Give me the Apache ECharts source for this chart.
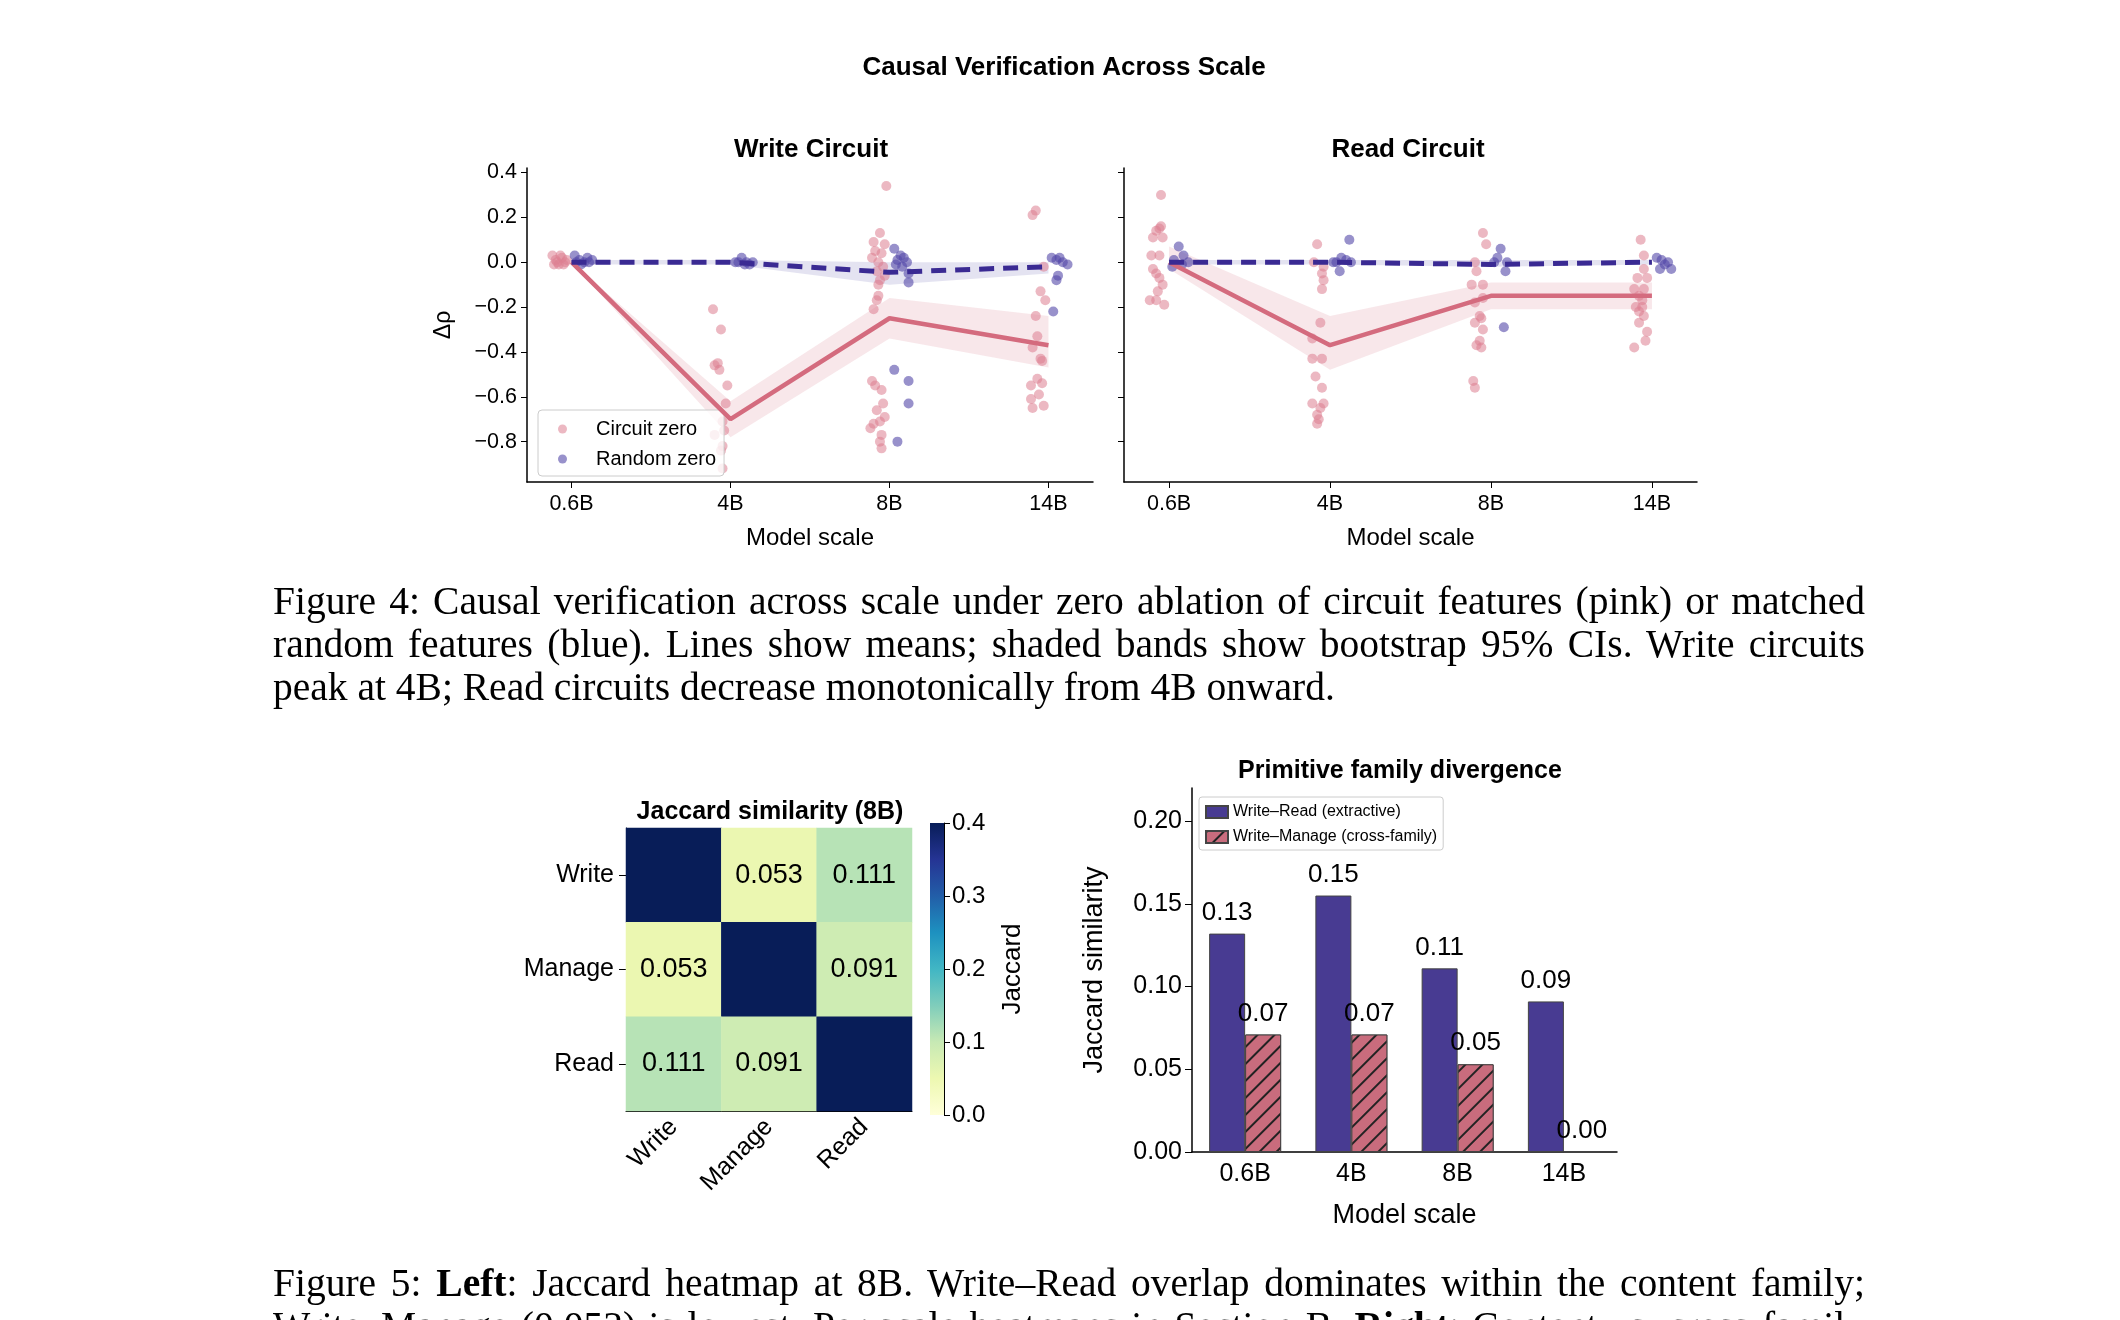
<!DOCTYPE html>
<html>
<head>
<meta charset="utf-8">
<script src="https://cdn.jsdelivr.net/npm/echarts@6/dist/echarts.min.js"></script>
<style>
  body { margin: 0; background: #fff; }
  #chart { width: 2120px; height: 1320px; position: absolute; left: 0; top: 0; }
  .cap { position: absolute; left: 273px; width: 1592px; font-family: 'Liberation Serif', serif; font-size: 39.5px; line-height: 43px; color: #000; white-space: nowrap; }
  .just { text-align: justify; text-align-last: justify; white-space: normal; }
</style>
</head>
<body>
<div id="chart"></div>
<div class="cap just" style="top:580px">Figure 4: Causal verification across scale under zero ablation of circuit features (pink) or matched</div>
<div class="cap just" style="top:623px">random features (blue). Lines show means; shaded bands show bootstrap 95% CIs. Write circuits</div>
<div class="cap" style="top:666px">peak at 4B; Read circuits decrease monotonically from 4B onward.</div>
<div class="cap just" style="top:1262px">Figure 5: <b>Left</b>: Jaccard heatmap at 8B. Write–Read overlap dominates within the content family;</div>
<div class="cap just" style="top:1305px">Write–Manage (0.053) is lowest. Per-scale heatmaps in Section B. <b>Right</b>: Content vs. cross-family</div>
<script>
const scales = ['0.6B', '4B', '8B', '14B'];

// Write circuit: means and bootstrap CIs
const writeCircuitMean = [0.0, -0.70, -0.25, -0.37];
const writeCircuitLo = [0.0, -0.78, -0.34, -0.47];
const writeCircuitHi = [0.0, -0.62, -0.16, -0.24];
const writeRandomMean = [0.0, 0.0, -0.045, -0.02];
const writeRandomLo = [-0.01, -0.01, -0.10, -0.05];
const writeRandomHi = [0.01, 0.01, 0.0, 0.0];

// Read circuit
const readCircuitMean = [0.0, -0.37, -0.15, -0.15];
const readCircuitLo = [-0.03, -0.48, -0.21, -0.21];
const readCircuitHi = [0.07, -0.24, -0.09, -0.09];
const readRandomMean = [0.0, 0.0, -0.01, 0.0];
const readRandomLo = [-0.01, -0.01, -0.02, -0.01];
const readRandomHi = [0.01, 0.01, 0.01, 0.01];

// individual points per scale: [jitter offset, delta rho]
const writeCircuitPts = [
  [[-0.12, 0.03], [-0.1, 0.01], [-0.08, -0.01], [-0.06, 0.02], [-0.04, 0.0], [-0.11, -0.01], [-0.07, 0.03], [-0.03, 0.01], [-0.09, 0.0], [-0.05, -0.01]],
  [[-0.11, -0.21], [-0.06, -0.30], [-0.1, -0.46], [-0.08, -0.45], [-0.07, -0.48], [-0.02, -0.55], [-0.03, -0.63], [-0.05, -0.71], [-0.1, -0.77], [-0.04, -0.75], [-0.05, -0.82], [-0.06, -0.84], [-0.05, -0.92]],
  [[-0.02, 0.34], [-0.06, 0.13], [-0.1, 0.09], [-0.03, 0.08], [-0.09, 0.05], [-0.05, 0.04], [-0.11, 0.02], [-0.07, 0.0], [-0.04, -0.02], [-0.08, -0.04], [-0.03, -0.06], [-0.06, -0.08], [-0.07, -0.10], [-0.07, -0.15], [-0.08, -0.17], [-0.1, -0.21], [-0.11, -0.53], [-0.09, -0.55], [-0.05, -0.57], [-0.04, -0.63], [-0.08, -0.66], [-0.03, -0.69], [-0.06, -0.71], [-0.1, -0.72], [-0.12, -0.74], [-0.05, -0.77], [-0.06, -0.80], [-0.05, -0.83]],
  [[-0.08, 0.23], [-0.1, 0.21], [-0.03, -0.02], [-0.05, -0.13], [-0.02, -0.17], [-0.08, -0.24], [-0.07, -0.33], [-0.1, -0.38], [-0.05, -0.43], [-0.04, -0.44], [-0.07, -0.52], [-0.04, -0.54], [-0.11, -0.55], [-0.06, -0.59], [-0.11, -0.61], [-0.03, -0.64], [-0.1, -0.65]]
];
const writeRandomPts = [
  [[0.02, 0.03], [0.05, 0.01], [0.08, 0.0], [0.1, 0.02], [0.13, 0.01], [0.06, -0.01], [0.11, 0.0], [0.03, 0.0]],
  [[0.03, 0.0], [0.07, 0.02], [0.1, 0.0], [0.12, -0.01], [0.05, 0.0], [0.14, 0.0], [0.09, -0.01]],
  [[0.03, 0.06], [0.07, 0.03], [0.09, 0.02], [0.05, 0.01], [0.11, 0.0], [0.04, -0.01], [0.08, -0.02], [0.12, -0.05], [0.12, -0.09], [0.03, -0.48], [0.12, -0.53], [0.12, -0.63], [0.05, -0.80]],
  [[0.02, 0.02], [0.05, 0.01], [0.09, 0.0], [0.12, -0.01], [0.07, 0.02], [0.06, -0.06], [0.05, -0.08], [0.03, -0.22]]
];
const readCircuitPts = [
  [[-0.05, 0.30], [-0.05, 0.16], [-0.08, 0.14], [-0.06, 0.15], [-0.1, 0.11], [-0.04, 0.11], [-0.11, 0.03], [-0.06, 0.03], [-0.1, -0.03], [-0.08, -0.05], [-0.06, -0.07], [-0.04, -0.10], [-0.07, -0.13], [-0.12, -0.17], [-0.08, -0.17], [-0.03, -0.19]],
  [[-0.08, 0.08], [-0.1, 0.0], [-0.04, -0.02], [-0.05, -0.05], [-0.04, -0.08], [-0.05, -0.12], [-0.06, -0.27], [-0.11, -0.34], [-0.11, -0.43], [-0.05, -0.43], [-0.09, -0.51], [-0.05, -0.56], [-0.11, -0.63], [-0.04, -0.63], [-0.06, -0.65], [-0.08, -0.68], [-0.07, -0.70], [-0.08, -0.72]],
  [[-0.05, 0.13], [-0.03, 0.08], [-0.1, 0.0], [-0.09, -0.04], [-0.12, -0.10], [-0.05, -0.10], [-0.05, -0.16], [-0.1, -0.18], [-0.07, -0.24], [-0.1, -0.27], [-0.06, -0.25], [-0.05, -0.30], [-0.07, -0.35], [-0.09, -0.37], [-0.06, -0.38], [-0.11, -0.53], [-0.1, -0.56]],
  [[-0.07, 0.10], [-0.05, 0.03], [-0.05, -0.03], [-0.09, -0.07], [-0.03, -0.07], [-0.05, -0.12], [-0.11, -0.12], [-0.08, -0.15], [-0.06, -0.17], [-0.1, -0.20], [-0.06, -0.20], [-0.08, -0.22], [-0.05, -0.24], [-0.08, -0.27], [-0.03, -0.31], [-0.04, -0.35], [-0.11, -0.38]]
];
const readRandomPts = [
  [[0.06, 0.07], [0.09, 0.03], [0.03, 0.01], [0.12, 0.0], [0.08, -0.01], [0.02, -0.02]],
  [[0.12, 0.10], [0.07, 0.02], [0.1, 0.01], [0.04, 0.0], [0.13, 0.0], [0.06, -0.04], [0.02, 0.0]],
  [[0.06, 0.06], [0.04, 0.02], [0.02, 0.0], [0.1, 0.0], [0.09, -0.04], [0.08, -0.29]],
  [[0.03, 0.02], [0.06, 0.01], [0.1, 0.0], [0.08, -0.01], [0.12, -0.03], [0.05, -0.03]]
];

// Jaccard similarity at 8B
const primitives = ['Write', 'Manage', 'Read'];
const jaccard8B = [
  [1.0, 0.053, 0.111],
  [0.053, 1.0, 0.091],
  [0.111, 0.091, 1.0]
];

// Family divergence bars
const writeRead = [0.132, 0.155, 0.111, 0.091];
const writeManage = [0.071, 0.071, 0.053, 0.0];

const ylgnbu = ['#ffffd9', '#edf8b1', '#c7e9b4', '#7fcdbb', '#41b6c4', '#1d91c0', '#225ea8', '#253494', '#081d58'];
const PINK = '#d46b7e', PINK_PT = '#dc7d8f', BLUE = '#3a2a93', BLUE_PT = '#5447a8';
const FONT = 'Liberation Sans';

function flatten(pts) {
  const out = [];
  pts.forEach((grp, i) => grp.forEach(p => out.push([i + p[0], p[1]])));
  return out;
}
function fmtMinus(v) {
  return v < 0 ? '\u2212' + Math.abs(v).toFixed(1) : v.toFixed(1);
}
function band(lo, hi, gridIdx, color) {
  return {
    type: 'custom', xAxisIndex: gridIdx, yAxisIndex: gridIdx, silent: true, z: 1,
    data: lo.map((v, i) => [i, v, hi[i]]),
    renderItem: function (params, api) {
      if (params.dataIndex !== 0) return null;
      const top = hi.map((v, i) => api.coord([i, v]));
      const bot = lo.map((v, i) => api.coord([i, v])).reverse();
      return { type: 'polygon', shape: { points: top.concat(bot) }, style: { fill: color } };
    }
  };
}
function dotAxisX(gridIdx) {
  return {
    type: 'value', gridIndex: gridIdx, min: -0.28, max: 3.28,
    splitLine: { show: false },
    axisLine: { onZero: false, lineStyle: { color: '#000', width: 1.5 } },
    axisTick: { customValues: [0, 1, 2, 3], length: 6, lineStyle: { color: '#000' } },
    axisLabel: { customValues: [0, 1, 2, 3], formatter: v => scales[Math.round(v)], fontSize: 21.5, color: '#000', fontFamily: FONT, margin: 11 },
    name: 'Model scale', nameLocation: 'middle', nameGap: 44,
    nameTextStyle: { fontSize: 24, color: '#000', fontFamily: FONT }
  };
}
function dotAxisY(gridIdx, showLabels) {
  const ticks = [-0.8, -0.6, -0.4, -0.2, 0, 0.2, 0.4];
  return {
    type: 'value', gridIndex: gridIdx, min: -0.98, max: 0.42,
    splitLine: { show: false },
    axisLine: { show: true, onZero: false, lineStyle: { color: '#000', width: 1.5 } },
    axisTick: { show: true, customValues: ticks, length: 6, lineStyle: { color: '#000' } },
    axisLabel: { show: showLabels, customValues: ticks, formatter: fmtMinus, fontSize: 21.5, color: '#000', fontFamily: FONT, margin: 10 },
    name: showLabels ? 'Δρ' : '', nameLocation: 'middle', nameGap: 72, nameRotate: 90,
    nameTextStyle: { fontSize: 23, color: '#000', fontFamily: FONT }
  };
}
function dotSeries(gridIdx, cPts, rPts, cMean, rMean, cLo, cHi, rLo, rHi) {
  return [
    band(cLo, cHi, gridIdx, 'rgba(212,107,126,0.16)'),
    band(rLo, rHi, gridIdx, 'rgba(90,80,170,0.16)'),
    {
      name: 'Circuit zero', type: 'scatter', xAxisIndex: gridIdx, yAxisIndex: gridIdx, z: 3,
      symbolSize: 10, itemStyle: { color: PINK_PT, opacity: 0.55 }, data: flatten(cPts)
    },
    {
      name: 'Random zero', type: 'scatter', xAxisIndex: gridIdx, yAxisIndex: gridIdx, z: 3,
      symbolSize: 10, itemStyle: { color: BLUE_PT, opacity: 0.6 }, data: flatten(rPts)
    },
    {
      type: 'line', xAxisIndex: gridIdx, yAxisIndex: gridIdx, z: 4, symbol: 'none',
      lineStyle: { color: PINK, width: 4.5 }, data: cMean.map((v, i) => [i, v])
    },
    {
      type: 'line', xAxisIndex: gridIdx, yAxisIndex: gridIdx, z: 4, symbol: 'none',
      lineStyle: { color: BLUE, width: 5, type: [15, 9] }, data: rMean.map((v, i) => [i, v])
    }
  ];
}

const heatData = [];
jaccard8B.forEach((row, r) => row.forEach((v, c) => heatData.push([c, r, v])));

const chart = echarts.init(document.getElementById('chart'), null, { renderer: 'canvas' });
const titleStyle = { fontSize: 26, fontWeight: 'bold', color: '#000', fontFamily: FONT };

const option = {
  animation: false,
  backgroundColor: '#fff',
  textStyle: { fontFamily: FONT },
  title: [
    { text: 'Causal Verification Across Scale', left: 1059, top: 50, textAlign: 'center', textStyle: titleStyle },
    { text: 'Write Circuit', left: 806, top: 132, textAlign: 'center', textStyle: titleStyle },
    { text: 'Read Circuit', left: 1403, top: 132, textAlign: 'center', textStyle: titleStyle },
    { text: 'Jaccard similarity (8B)', left: 765, top: 795, textAlign: 'center', textStyle: Object.assign({}, titleStyle, { fontSize: 25 }) },
    { text: 'Primitive family divergence', left: 1395, top: 754, textAlign: 'center', textStyle: Object.assign({}, titleStyle, { fontSize: 25 }) }
  ],
  legend: [
    {
      data: ['Circuit zero', 'Random zero'], left: 538, top: 410, orient: 'vertical',
      icon: 'circle', itemWidth: 9, itemHeight: 9, itemGap: 10, padding: [9, 8, 7, 20],
      borderColor: '#ccc', borderWidth: 1, borderRadius: 4, backgroundColor: 'rgba(255,255,255,0.8)',
      textStyle: { fontSize: 20, color: '#000', padding: [0, 0, 0, 24] }
    },
    {
      data: ['Write–Read (extractive)', 'Write–Manage (cross-family)'], left: 1199, top: 797, orient: 'vertical',
      icon: 'rect', itemWidth: 22, itemHeight: 12, itemGap: 9, padding: [7, 6, 5, 6],
      borderColor: '#ccc', borderWidth: 1, borderRadius: 3,
      textStyle: { fontSize: 16, color: '#000' }
    }
  ],
  grid: [
    { left: 527, top: 168, width: 566, height: 314 },
    { left: 1124, top: 168, width: 573, height: 314 },
    { left: 626, top: 828, width: 286, height: 283 },
    { left: 930, top: 823, width: 14, height: 292 },
    { left: 1192, top: 788, width: 425, height: 364 }
  ],
  xAxis: [
    dotAxisX(0),
    dotAxisX(1),
    {
      type: 'category', gridIndex: 2, data: primitives,
      axisLine: { show: true, lineStyle: { color: '#000' } },
      axisTick: { alignWithLabel: true, length: 7, lineStyle: { color: '#000' } },
      axisLabel: { rotate: 45, fontSize: 25, color: '#000', margin: 12 },
      splitLine: { show: false }
    },
    { type: 'category', gridIndex: 3, data: [''], show: false },
    {
      type: 'category', gridIndex: 4, data: scales,
      axisLine: { lineStyle: { color: '#000', width: 1.5 } },
      axisTick: { alignWithLabel: true, length: 7, lineStyle: { color: '#000' } },
      axisLabel: { fontSize: 25, color: '#000', margin: 10 },
      name: 'Model scale', nameLocation: 'middle', nameGap: 50,
      nameTextStyle: { fontSize: 27, color: '#000' }
    }
  ],
  yAxis: [
    dotAxisY(0, true),
    dotAxisY(1, false),
    {
      type: 'category', gridIndex: 2, data: primitives, inverse: true,
      axisLine: { show: true, lineStyle: { color: '#000' } },
      axisTick: { show: true, alignWithLabel: true, length: 7, lineStyle: { color: '#000' } },
      axisLabel: { fontSize: 25, color: '#000', margin: 12 }
    },
    {
      type: 'value', gridIndex: 3, min: 0, max: 0.4, interval: 0.1, position: 'right',
      splitLine: { show: false },
      axisLine: { show: true, lineStyle: { color: '#000' } },
      axisTick: { show: true, length: 6, lineStyle: { color: '#000' } },
      axisLabel: { fontSize: 24, color: '#000', formatter: v => v.toFixed(1), margin: 8 },
      name: 'Jaccard', nameLocation: 'middle', nameGap: 56, nameRotate: 90,
      nameTextStyle: { fontSize: 26, color: '#000' }
    },
    {
      type: 'value', gridIndex: 4, min: 0, max: 0.22,
      splitLine: { show: false },
      axisLine: { show: true, lineStyle: { color: '#000', width: 1.5 } },
      axisTick: { show: true, customValues: [0, 0.05, 0.1, 0.15, 0.2], length: 7, lineStyle: { color: '#000' } },
      axisLabel: { customValues: [0, 0.05, 0.1, 0.15, 0.2], formatter: v => v.toFixed(2), fontSize: 25, color: '#000', margin: 10 },
      name: 'Jaccard similarity', nameLocation: 'middle', nameGap: 84, nameRotate: 90,
      nameTextStyle: { fontSize: 27, color: '#000' }
    }
  ],
  visualMap: {
    type: 'continuous', show: false, seriesIndex: 12, min: 0, max: 0.4,
    inRange: { color: ylgnbu }, outOfRange: { color: '#081d58' }
  },
  series: [
    ...dotSeries(0, writeCircuitPts, writeRandomPts, writeCircuitMean, writeRandomMean,
      writeCircuitLo, writeCircuitHi, writeRandomLo, writeRandomHi),
    ...dotSeries(1, readCircuitPts, readRandomPts, readCircuitMean, readRandomMean,
      readCircuitLo, readCircuitHi, readRandomLo, readRandomHi),
    {
      type: 'heatmap', xAxisIndex: 2, yAxisIndex: 2, data: heatData,
      label: {
        show: true, fontSize: 27, color: '#000',
        formatter: p => (p.value[0] === p.value[1] ? '' : p.value[2].toFixed(3))
      }
    },
    {
      type: 'custom', xAxisIndex: 3, yAxisIndex: 3, data: [[0, 0.4]], silent: true,
      renderItem: function (params, api) {
        const cs = params.coordSys;
        return {
          type: 'rect', shape: { x: cs.x, y: cs.y, width: cs.width, height: cs.height },
          style: {
            fill: new echarts.graphic.LinearGradient(0, 1, 0, 0,
              ylgnbu.map((c, i) => ({ offset: i / (ylgnbu.length - 1), color: c })))
          }
        };
      }
    },
    {
      name: 'Write–Read (extractive)', type: 'bar', xAxisIndex: 4, yAxisIndex: 4,
      data: writeRead, barWidth: 36, barGap: '0%',
      itemStyle: { color: '#483b92', borderColor: '#444', borderWidth: 1 },
      label: { show: true, position: 'top', fontSize: 26, color: '#000', distance: 8, formatter: p => p.value.toFixed(2) }
    },
    {
      name: 'Write–Manage (cross-family)', type: 'bar', xAxisIndex: 4, yAxisIndex: 4,
      data: writeManage, barWidth: 36,
      itemStyle: {
        color: '#c96c7d', borderColor: '#444', borderWidth: 1,
        decal: { symbol: 'rect', symbolSize: 1, dashArrayX: [[1, 0]], dashArrayY: [2, 10], rotation: -Math.PI / 4, color: '#222', backgroundColor: '#c96c7d' }
      },
      label: { show: true, position: 'top', fontSize: 26, color: '#000', distance: 8, formatter: p => p.value.toFixed(2) }
    }
  ]
};
chart.setOption(option);
</script>
</body>
</html>
